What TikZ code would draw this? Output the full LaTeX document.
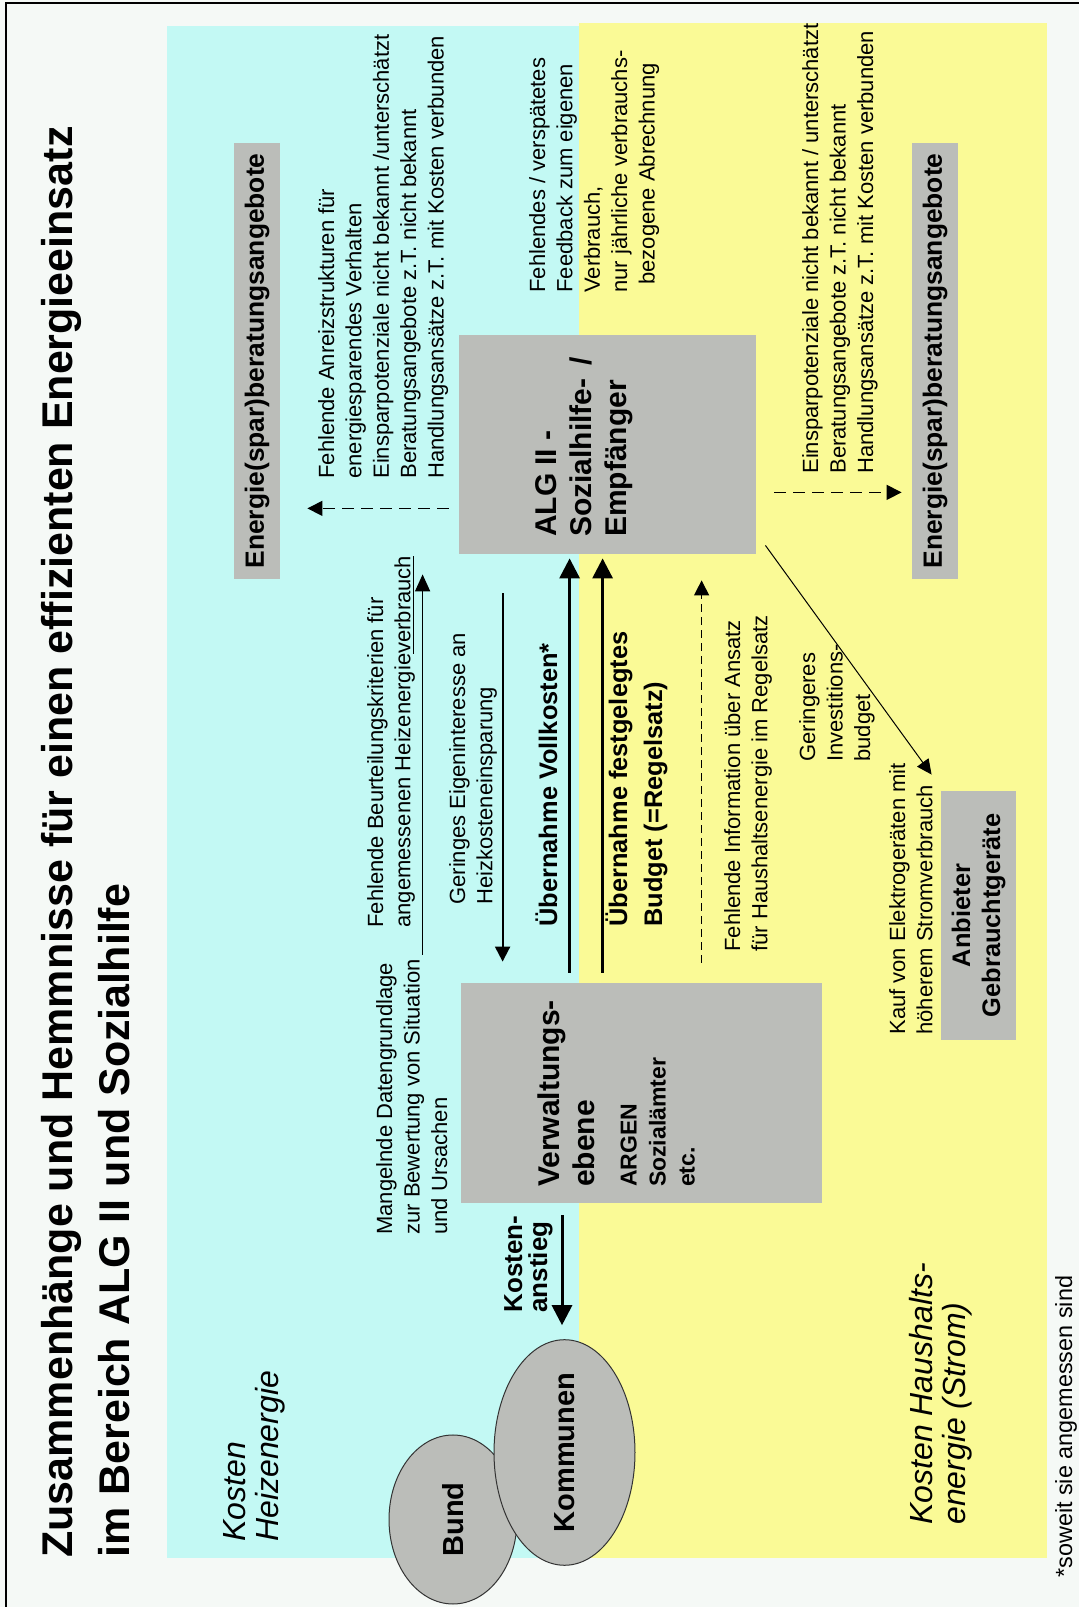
\documentclass[tikz,border=0pt]{standalone}
\usepackage{fontspec}
\setmainfont{Liberation Sans}
\usepackage{xcolor}
\usepackage{tikz}
\usetikzlibrary{arrows.meta,calc,shapes.geometric}
\definecolor{papier}{HTML}{F5F9F6}
\definecolor{heizung}{HTML}{C3F9F4}
\definecolor{haushalt}{HTML}{FAFA96}
\definecolor{kastengrau}{HTML}{BBBDB9}

\tikzset{
  kasten/.style={fill=kastengrau, inner sep=0pt},
  oval/.style={ellipse, draw=black!80, line width=0.5pt, fill=kastengrau, inner sep=0pt,
    font=\bfseries\fontsize{14.5}{17}\selectfont},
  notiz/.style={inner sep=0pt, align=left, anchor=base west, font=\fontsize{11}{13.7}\selectfont},
  fettgross/.style={inner sep=0pt, align=left, anchor=base west, font=\bfseries\fontsize{15}{17.5}\selectfont},
  fettklein/.style={inner sep=0pt, align=left, anchor=base west, font=\bfseries\fontsize{11.5}{14.5}\selectfont},
  fettmittel/.style={inner sep=0pt, align=left, anchor=base west, font=\bfseries\fontsize{12.7}{17.5}\selectfont},
  bereich/.style={inner sep=0pt, align=left, anchor=base west, font=\itshape\fontsize{16}{16.5}\selectfont},
  duennpfeil/.style={-{Triangle[length=8.5pt,width=7.5pt]}, line width=0.75pt},
  mittelpfeil/.style={-{Triangle[length=7.5pt,width=7.5pt]}, line width=1pt},
  dickpfeil/.style={-{Triangle[length=10pt,width=10pt]}, line width=1.5pt},
  strichpfeil/.style={-{Triangle[length=7.5pt,width=7.5pt]}, line width=0.6pt, dash pattern=on 4pt off 2.5pt},
  langstrich/.style={-{Triangle[length=7.5pt,width=7.5pt]}, line width=0.6pt, dash pattern=on 6pt off 3.5pt},
  diagpfeil/.style={-{Triangle[length=7.5pt,width=7pt]}, line width=0.5pt}
}

\begin{document}
\begin{tikzpicture}[x=0.5pt, y=0.5pt]
  \useasboundingbox (0,0) rectangle (1079,1607);
  \fill[papier] (0,0) rectangle (1079,1607);
  % Rahmen links und oben
  \draw[line width=1pt] (6,0) -- (6,1604) -- (1079,1604);
  \begin{scope}[shift={(1079,0)}, rotate=90, transform shape]
    % Bereiche Heizenergie / Haushaltsenergie
    \fill[heizung] (49,500) rectangle (1581,912);
    \fill[haushalt] (49,32) rectangle (1584,500);
    % Titel (Anker = Grundlinie der letzten Zeile)
    \node[inner sep=0pt, align=left, anchor=base west, font=\bfseries\fontsize{21.5}{28.5}\selectfont] (titel) at (49,950)
      {Zusammenhänge und Hemmnisse für einen effizienten Energieeinsatz\\im Bereich ALG II und Sozialhilfe};
    % Kaesten
    \node[kasten, minimum width=109.5pt, minimum height=148.5pt] (alg) at (1162.5,471.5) {};
    \node[fettgross] (algtext) at ($(alg.north west)+(17,-168)$) {ALG II -\\Sozialhilfe-\hspace{0.45em}/\\Empfänger};
    \node[kasten, minimum width=110pt, minimum height=180.5pt] (verw) at (514,437.5) {};
    \node[fettgross] (verwtext) at ($(verw.north west)+(16,-134)$) {Verwaltungs-\\ebene};
    \node[fettklein] (argen) at ($(verw.north west)+(16,-234)$) {ARGEN\\Sozialämter\\etc.};
    \node[kasten, minimum width=218pt, minimum height=23pt, font=\bfseries\fontsize{13.2}{15}\selectfont] (beratlinks) at (1246,822) {Energie(spar)beratungsangebote};
    \node[kasten, minimum width=218pt, minimum height=23pt, font=\bfseries\fontsize{13.2}{15}\selectfont] (beratrechts) at (1246,144) {Energie(spar)beratungsangebote};
    \node[kasten, minimum width=124.5pt, minimum height=37.5pt, align=center, font=\bfseries\fontsize{12.7}{15}\selectfont] (anbieter) at (691.5,100.5) {Anbieter\\Gebrauchtgeräte};
    % Bund und Kommunen
    \node[oval, minimum width=84.5pt, minimum height=64pt] (bund) at (87.5,626) {Bund};
    \node[oval, minimum width=105.5pt, minimum height=70.5pt] (kommunen) at (154.5,514.5) {Kommunen};
    % Hemmnisse als Notizen
    \node[notiz] (anreiz) at (1128,635.4) {Fehlende Anreizstrukturen für\\energiesparendes Verhalten\\Einsparpotenziale nicht bekannt /unterschätzt\\Beratungsangebote z.T. nicht bekannt\\Handlungsansätze z.T. mit Kosten verbunden};
    \node[notiz] (feedback) at (1314,424.4) {Fehlendes / verspätetes\\Feedback zum eigenen\\Verbrauch,\\nur jährliche verbrauchs-\\\hspace*{4pt}bezogene Abrechnung};
    \node[notiz] (einspar) at (1133,206) {Einsparpotenziale nicht bekannt / unterschätzt\\Beratungsangebote z.T. nicht bekannt\\Handlungsansätze z.T. mit Kosten verbunden};
    \node[notiz] (beurteil) at (679,668.6) {Fehlende Beurteilungskriterien für\\angemessenen Heizenergie\underline{verbrauch}};
    \node[notiz] (eigen) at (702,586.6) {Geringes Eigeninteresse an\\Heizkosteneinsparung};
    \node[fettmittel] (voll) at (680,522) {Übernahme Vollkosten*};
    \node[fettmittel] (budget) at (680,417) {Übernahme festgelegtes\\Budget (=Regelsatz)};
    \node[notiz] (info) at (655,311.6) {Fehlende Information über Ansatz\\für Haushaltsenergie im Regelsatz};
    \node[notiz] (invest) at (845,209) {Geringeres\\Investitions-\\budget};
    \node[notiz] (kauf) at (572,146.6) {Kauf von Elektrogeräten mit\\höherem Stromverbrauch};
    \node[notiz] (mangel) at (372,632) {Mangelnde Datengrundlage\\zur Bewertung von Situation\\und Ursachen};
    \node[inner sep=0pt, align=left, anchor=base west, font=\bfseries\fontsize{13}{12.5}\selectfont] (anstieg) at (294,532) {Kosten-\\anstieg};
    \node[bereich] (heizkosten) at (65,801) {Kosten\\Heizenergie};
    \node[bereich] (stromkosten) at (82,114) {Kosten Haushalts-\\energie (Strom)};
    \node[inner sep=0pt, anchor=base west, font=\fontsize{11.7}{14}\selectfont] (fussnote) at (29,7) {*soweit sie angemessen sind};
    % Pfeile
    \draw[langstrich] ($(alg.north west)+(46,10)$) -- ($(beratlinks.south west)+(71,-27)$);
    \draw[langstrich] ($(alg.south west)+(62,-18)$) -- ($(beratrechts.north west)+(87,10)$);
    \draw[duennpfeil] ($(verw.north east)+(28,38)$) -- ($(alg.north west)+(-20,36)$);
    \draw[mittelpfeil] ($(alg.north west)+(-39,-44)$) -- ($(verw.north east)+(21,-42)$);
    \draw[dickpfeil] ($(verw.north east)+(10,-109)$) -- ($(alg.north west)+(-4,-111)$);
    \draw[dickpfeil] ($(verw.north east)+(10,-142)$) -- ($(alg.north west)+(-4,-144)$);
    \draw[strichpfeil] ($(verw.north east)+(20,-241)$) -- ($(alg.north west)+(-26,-243)$);
    \draw[diagpfeil] ($(alg.south west)+(9,-9)$) -- ($(anbieter.north east)+(16,9)$);
    \draw[dickpfeil] ($(verw.west)+(-12,79.5)$) -- ($(kommunen.east)+(14,2.5)$);
  \end{scope}
\end{tikzpicture}
\end{document}
